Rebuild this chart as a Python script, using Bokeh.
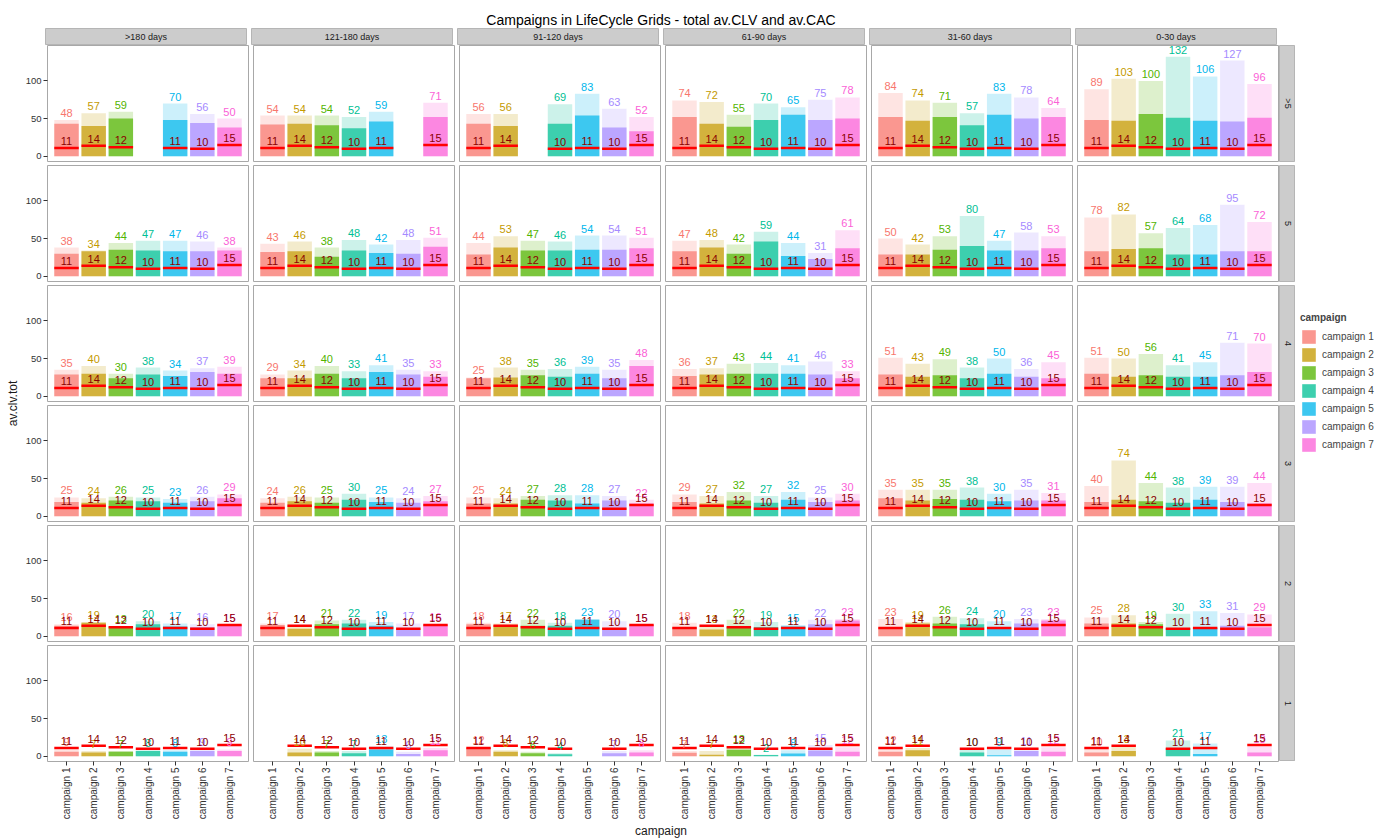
import math
from bokeh.plotting import figure
from bokeh.models import ColumnDataSource, FactorRange, Range1d, Legend, LegendItem, FixedTicker, Spacer, Grid
from bokeh.transform import dodge
from bokeh.layouts import row, column
from bokeh.embed import file_html
from bokeh.resources import INLINE
from bokeh.core.properties import value

# ---------------- data ----------------
chart_title = "Campaigns in LifeCycle Grids - total av.CLV and av.CAC"
campaigns = ["campaign 1", "campaign 2", "campaign 3", "campaign 4",
             "campaign 5", "campaign 6", "campaign 7"]
periods = [">180 days", "121-180 days", "91-120 days", "61-90 days", "31-60 days", "0-30 days"]
frequencies = [">5", "5", "4", "3", "2", "1"]
av_cac = [11, 14, 12, 10, 11, 10, 15]
colors = ["#F8766D", "#C49A00", "#53B400", "#00C094", "#00B6EB", "#A58AFF", "#FB61D7"]

# total av.clv (light bars), one list of 7 campaigns per recency period
clv_tot_gt5 = [[48, 57, 59, None, 70, 56, 50], [54, 54, 54, 52, 59, None, 71],
               [56, 56, None, 69, 83, 63, 52], [74, 72, 55, 70, 65, 75, 78],
               [84, 74, 71, 57, 83, 78, 64], [89, 103, 100, 132, 106, 127, 96]]
clv_tot_5 = [[38, 34, 44, 47, 47, 46, 38], [43, 46, 38, 48, 42, 48, 51],
             [44, 53, 47, 46, 54, 54, 51], [47, 48, 42, 59, 44, 31, 61],
             [50, 42, 53, 80, 47, 58, 53], [78, 82, 57, 64, 68, 95, 72]]
clv_tot_4 = [[35, 40, 30, 38, 34, 37, 39], [29, 34, 40, 33, 41, 35, 33],
             [25, 38, 35, 36, 39, 35, 48], [36, 37, 43, 44, 41, 46, 33],
             [51, 43, 49, 38, 50, 36, 45], [51, 50, 56, 41, 45, 71, 70]]
clv_tot_3 = [[25, 24, 26, 25, 23, 26, 29], [24, 26, 25, 30, 25, 24, 27],
             [25, 24, 27, 28, 28, 27, 22], [29, 27, 32, 27, 32, 25, 30],
             [35, 35, 35, 38, 30, 35, 31], [40, 74, 44, 38, 39, 39, 44]]
clv_tot_2 = [[16, 19, 13, 20, 17, 16, 15], [17, 14, 21, 22, 19, 17, 16],
             [18, 17, 22, 18, 23, 20, 15], [18, 13, 22, 19, 15, 22, 23],
             [23, 19, 26, 24, 20, 23, 23], [25, 28, 19, 30, 33, 31, 29]]
clv_tot_1 = [[9, 7, 7, 8, 8, 9, 9], [None, 10, 7, 7, 13, 6, 11],
             [12, 8, 6, 4, None, 7, 8], [7, 7, 13, 2, 8, 15, 12],
             [12, 11, None, 10, 9, 11, 12], [10, 13, None, 21, 17, None, 13]]

# av.clv of the current period (dark bars)
clv_gt5 = [[43, 40, 50, None, 48, 44, 38], [42, 43, 41, 37, 46, None, 52],
           [43, 40, None, 43, 54, 38, 33], [52, 43, 39, 48, 55, 48, 50],
           [52, 47, 52, 41, 55, 50, 52], [48, 47, 56, 51, 47, 46, 51]]
clv_5 = [[30, 33, 35, 34, 33, 33, 34], [32, 33, 26, 34, 31, 30, 39],
         [29, 38, 34, 34, 35, 35, 37], [33, 38, 30, 46, 27, 23, 37],
         [29, 29, 35, 40, 34, 34, 37], [33, 36, 37, 29, 29, 33, 33]]
clv_4 = [[29, 30, 24, 29, 27, 32, 30], [24, 24, 30, 24, 32, 29, 26],
         [24, 25, 28, 26, 30, 24, 40], [27, 29, 30, 30, 30, 29, 24],
         [29, 26, 28, 24, 30, 26, 24], [30, 26, 28, 26, 26, 28, 32]]
clv_3 = [[19, 18, 21, 20, 18, 20, 24], [18, 20, 18, 22, 19, 18, 20],
         [17, 17, 22, 21, 17, 21, 17], [19, 17, 21, 18, 22, 19, 21],
         [24, 21, 23, 22, 20, 21, 21], [19, 22, 20, 18, 22, 19, 17]]
clv_2 = [[14, 18, 13, 16, 13, 12, 15], [15, 10, 16, 17, 14, 10, 15],
         [16, 15, 14, 14, 22, 11, 15], [12, 9, 12, 12, 13, 16, 21],
         [12, 17, 17, 16, 10, 17, 21], [17, 17, 16, 11, 11, 14, 12]]
clv_1 = [[6, 5, 6, 7, 6, 7, 7], [None, 5, 5, 4, 9, 3, 8],
         [11, 6, 4, 2.5, None, 4, 5], [4.5, 2, 8.5, 1.5, 3.5, 7.5, 6],
         [6, 8, None, 5, 1.3, 7, 6], [5, 7, None, 11, 3, None, 5]]

rows_tot = [clv_tot_gt5, clv_tot_5, clv_tot_4, clv_tot_3, clv_tot_2, clv_tot_1]
rows_part = [clv_gt5, clv_5, clv_4, clv_3, clv_2, clv_1]

# ---------------- style / layout ----------------
FONT = value("Liberation Sans")
PW, PH = 201, 116
GX, GY = 5, 4
LEFT = 23
YT_W = 22
STRIP_H = 16
RSTRIP_W = 16
LEG_W = 97
TITLE_H = 28
BORDER = "#A8A8A8"
STRIP_FILL = "#CCCCCC"


def no_grid(p):
    for r in list(p.center):
        if isinstance(r, Grid):
            r.visible = False


def base_fig(**kw):
    opts = dict(output_backend="svg", toolbar_location=None, min_border_top=0,
                min_border_bottom=0, min_border_left=0, min_border_right=0)
    opts.update(kw)
    p = figure(**opts)
    return p


def make_panel(tot, part, first_col, last_col, bottom_row):
    xr = FactorRange(*campaigns, range_padding=0.2, range_padding_units="absolute")
    p = base_fig(x_range=xr, y_range=Range1d(-7, 147), frame_width=PW, frame_height=PH,
                 min_border_left=LEFT if first_col else 0,
                 min_border_right=1 if last_col else GX,
                 min_border_bottom=0 if bottom_row else GY,
                 x_axis_location="below" if bottom_row else None,
                 y_axis_location="left" if first_col else None)
    p.outline_line_color = BORDER
    p.background_fill_color = "white"
    idx = [i for i in range(7) if tot[i] is not None]
    src = ColumnDataSource(dict(
        campaign=[campaigns[i] for i in idx],
        tot=[tot[i] for i in idx],
        part=[part[i] for i in idx],
        cac=[av_cac[i] for i in idx],
        color=[colors[i] for i in idx],
        tot_label=[str(tot[i]) for i in idx],
        cac_label=[str(av_cac[i]) for i in idx],
    ))
    p.vbar(x="campaign", top="tot", bottom=0, width=0.9, source=src,
           fill_color="color", fill_alpha=0.2, line_color=None)
    p.vbar(x="campaign", top="part", bottom=0, width=0.9, source=src,
           fill_color="color", fill_alpha=0.7, line_color=None)
    p.segment(x0=dodge("campaign", -0.45, range=p.x_range), y0="cac",
              x1=dodge("campaign", 0.45, range=p.x_range), y1="cac",
              source=src, line_color="red", line_width=2.5)
    p.text(x="campaign", y="tot", text="tot_label", source=src, y_offset=-7,
           text_color="color", text_align="center", text_baseline="middle",
           text_font=FONT, text_font_size="11px")
    p.text(x="campaign", y="cac", text="cac_label", source=src, y_offset=-7,
           text_color="#8B0000", text_align="center", text_baseline="middle",
           text_font=FONT, text_font_size="11px")
    no_grid(p)
    for ax in p.axis:
        ax.axis_line_color = None
        ax.major_tick_line_color = "#333333"
        ax.major_tick_in = 0
        ax.major_tick_out = 4
        ax.minor_tick_line_color = None
        ax.major_label_text_font = "Liberation Sans"
        ax.major_label_text_color = "#333333"
        ax.major_label_standoff = 2
    if first_col:
        p.yaxis.ticker = FixedTicker(ticks=[0, 50, 100])
        p.yaxis.major_label_text_font_size = "9.5px"
    if bottom_row:
        p.xaxis.major_label_orientation = math.pi / 2
        p.xaxis.major_label_text_font_size = "10px"
    return p


def make_strip(label, w, h, first_col, last_col, vertical=False, bottom_gap=0):
    s = base_fig(x_range=Range1d(0, 1), y_range=Range1d(0, 1), frame_width=w, frame_height=h,
                 x_axis_location=None, y_axis_location=None,
                 min_border_left=LEFT if first_col else 0,
                 min_border_right=(1 if last_col else GX) if not vertical else 0,
                 min_border_bottom=bottom_gap)
    no_grid(s)
    s.background_fill_color = STRIP_FILL
    s.outline_line_color = "#B5B5B5"
    s.text(x=[0.5], y=[0.5], text=[label], text_align="center", text_baseline="middle",
           angle=(-math.pi / 2 if vertical else 0), text_font=FONT,
           text_font_size="9px", text_color="#1A1A1A")
    return s


# top strips
strip_figs = [make_strip(periods[j], PW, STRIP_H, j == 0, j == 5, bottom_gap=1) for j in range(6)]
grid_rows = [row(strip_figs + [Spacer(width=RSTRIP_W, height=STRIP_H + 1)])]

for r in range(6):
    figs = []
    for j in range(6):
        figs.append(make_panel(rows_tot[r][j], rows_part[r][j], j == 0, j == 5, r == 5))
    figs.append(make_strip(frequencies[r], RSTRIP_W, PH, False, False, vertical=True,
                           bottom_gap=0 if r == 5 else GY))
    grid_rows.append(row(figs))

grid_col = column(grid_rows)

grid_w = LEFT + 6 * (PW + GX) - GX + 1 + RSTRIP_W
panels_h = 6 * (PH + GY) - GY
body_h = STRIP_H + 1 + panels_h

# y-axis title
yt = base_fig(x_range=Range1d(0, YT_W), y_range=Range1d(0, body_h), frame_width=YT_W,
              frame_height=body_h, x_axis_location=None, y_axis_location=None)
no_grid(yt)
yt.outline_line_color = None
yt.text(x=[12], y=[panels_h / 2], text=["av.clv.tot"], angle=math.pi / 2,
        text_align="center", text_baseline="middle", text_font=FONT,
        text_font_size="12px", text_color="#1A1A1A")

# legend
lg = base_fig(x_range=Range1d(0, 1), y_range=Range1d(0, 1), frame_width=LEG_W,
              frame_height=body_h, x_axis_location=None, y_axis_location=None)
no_grid(lg)
lg.outline_line_color = None
items = []
for c, col in zip(campaigns, colors):
    # a bar outside the visible range: only its legend key is shown
    rr = lg.vbar(x=[5], top=[6], bottom=[5], width=0.9, fill_color=col, fill_alpha=0.76,
                 line_color=None)
    items.append(LegendItem(label=c, renderers=[rr]))
legend = Legend(items=items, location=(5, 308), title="campaign",
                title_text_font_size="10px", title_text_font_style="bold",
                label_text_font="Liberation Sans", label_text_font_size="10px",
                glyph_width=17, glyph_height=17, label_height=17, spacing=1,
                padding=0, margin=0, border_line_color=None, background_fill_alpha=0,
                label_standoff=5, title_standoff=5)
legend.title_text_font = "Liberation Sans"
lg.add_layout(legend)

body = row(yt, grid_col, lg)

total_w = YT_W + grid_w + LEG_W
title_x = YT_W + LEFT + (6 * (PW + GX) - GX) / 2

tf = base_fig(x_range=Range1d(0, total_w), y_range=Range1d(0, 1), frame_width=total_w,
              frame_height=TITLE_H, x_axis_location=None, y_axis_location=None)
no_grid(tf)
tf.outline_line_color = None
tf.text(x=[title_x], y=[0.32], text=[chart_title], text_align="center",
        text_baseline="middle", text_font=FONT, text_font_size="14px", text_color="#000000")

xf = base_fig(x_range=Range1d(0, total_w), y_range=Range1d(0, 1), frame_width=total_w,
              frame_height=20, x_axis_location=None, y_axis_location=None)
no_grid(xf)
xf.outline_line_color = None
xf.text(x=[title_x], y=[0.6], text=["campaign"], text_align="center",
        text_baseline="middle", text_font=FONT, text_font_size="12px", text_color="#1A1A1A")

layout = column(tf, body, xf)

open("out.html", "w").write(file_html(layout, INLINE))
